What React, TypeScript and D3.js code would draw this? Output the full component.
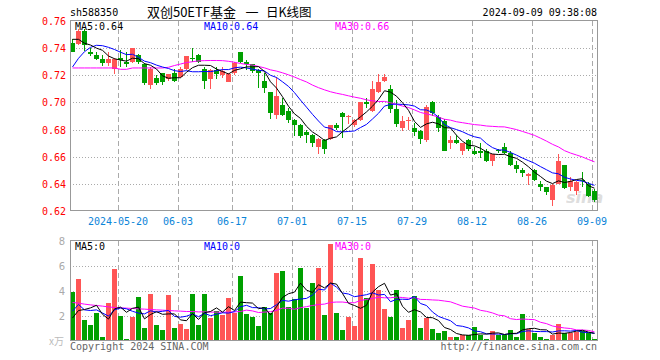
import React from "react";
import * as d3 from "d3";

// ---------- data ----------
const dates = [
  "2024-05-08","2024-05-09","2024-05-10","2024-05-13","2024-05-14","2024-05-15","2024-05-16","2024-05-17","2024-05-20","2024-05-21",
  "2024-05-22","2024-05-23","2024-05-24","2024-05-27","2024-05-28","2024-05-29","2024-05-30","2024-05-31","2024-06-03","2024-06-04",
  "2024-06-05","2024-06-06","2024-06-07","2024-06-11","2024-06-12","2024-06-13","2024-06-14","2024-06-17","2024-06-18","2024-06-19",
  "2024-06-20","2024-06-21","2024-06-24","2024-06-25","2024-06-26","2024-06-27","2024-06-28","2024-07-01","2024-07-02","2024-07-03",
  "2024-07-04","2024-07-05","2024-07-08","2024-07-09","2024-07-10","2024-07-11","2024-07-12","2024-07-15","2024-07-16","2024-07-17",
  "2024-07-18","2024-07-19","2024-07-22","2024-07-23","2024-07-24","2024-07-25","2024-07-26","2024-07-29","2024-07-30","2024-07-31",
  "2024-08-01","2024-08-02","2024-08-05","2024-08-06","2024-08-07","2024-08-08","2024-08-09","2024-08-12","2024-08-13","2024-08-14",
  "2024-08-15","2024-08-16","2024-08-19","2024-08-20","2024-08-21","2024-08-22","2024-08-23","2024-08-26","2024-08-27","2024-08-28",
  "2024-08-29","2024-08-30","2024-09-02","2024-09-03","2024-09-04","2024-09-05","2024-09-06","2024-09-09",
];

const opens = [
  0.744,0.743,0.753,0.737,0.735,0.732,0.729,0.725,0.733,0.730,
  0.730,0.735,0.728,0.713,0.718,0.722,0.717,0.722,0.719,0.725,
  0.733,0.735,0.725,0.717,0.724,0.720,0.715,0.722,0.737,0.730,
  0.728,0.724,0.716,0.708,0.691,0.698,0.694,0.687,0.683,0.678,
  0.676,0.667,0.672,0.673,0.683,0.692,0.689,0.683,0.687,0.700,
  0.694,0.708,0.716,0.710,0.695,0.681,0.686,0.681,0.679,0.672,
  0.700,0.689,0.686,0.670,0.672,0.664,0.672,0.664,0.664,0.664,
  0.657,0.665,0.667,0.663,0.654,0.650,0.646,0.650,0.640,0.638,
  0.628,0.640,0.654,0.638,0.635,0.643,0.640,0.635,
];
const highs = [
  0.747,0.754,0.754,0.740,0.737,0.735,0.737,0.733,0.739,0.737,
  0.740,0.736,0.729,0.726,0.720,0.722,0.721,0.725,0.726,0.734,
  0.740,0.736,0.726,0.725,0.726,0.726,0.722,0.730,0.737,0.731,
  0.728,0.725,0.722,0.708,0.719,0.703,0.696,0.688,0.684,0.680,
  0.677,0.674,0.673,0.683,0.685,0.693,0.691,0.688,0.700,0.703,
  0.716,0.721,0.721,0.713,0.702,0.690,0.689,0.685,0.680,0.698,
  0.701,0.691,0.688,0.675,0.676,0.670,0.673,0.667,0.670,0.666,
  0.662,0.666,0.670,0.664,0.657,0.652,0.648,0.651,0.642,0.638,
  0.640,0.662,0.654,0.645,0.642,0.649,0.641,0.636,
];
const lows = [
  0.737,0.742,0.738,0.734,0.731,0.727,0.727,0.721,0.726,0.726,
  0.729,0.728,0.713,0.710,0.713,0.713,0.716,0.715,0.718,0.724,
  0.730,0.729,0.710,0.710,0.717,0.718,0.715,0.720,0.729,0.724,
  0.722,0.711,0.707,0.688,0.688,0.690,0.685,0.675,0.674,0.670,
  0.667,0.662,0.662,0.672,0.680,0.674,0.684,0.682,0.686,0.696,
  0.693,0.707,0.715,0.692,0.682,0.679,0.680,0.675,0.669,0.671,
  0.690,0.678,0.664,0.666,0.669,0.661,0.664,0.661,0.659,0.656,
  0.653,0.663,0.662,0.653,0.648,0.645,0.639,0.642,0.635,0.632,
  0.624,0.640,0.636,0.635,0.632,0.638,0.630,0.627,
];
const closes = [
  0.737,0.753,0.742,0.736,0.732,0.729,0.732,0.732,0.731,0.728,
  0.740,0.730,0.714,0.725,0.714,0.715,0.721,0.716,0.725,0.734,
  0.732,0.730,0.716,0.724,0.721,0.723,0.721,0.729,0.730,0.728,
  0.723,0.722,0.711,0.692,0.705,0.691,0.687,0.683,0.675,0.676,
  0.670,0.673,0.666,0.683,0.681,0.689,0.690,0.687,0.700,0.699,
  0.710,0.715,0.719,0.695,0.684,0.686,0.687,0.678,0.673,0.697,
  0.692,0.681,0.664,0.672,0.670,0.670,0.666,0.662,0.663,0.657,
  0.662,0.664,0.663,0.654,0.651,0.648,0.647,0.643,0.638,0.634,
  0.639,0.657,0.637,0.642,0.641,0.642,0.631,0.628,
];
const volumes = [
  3.92,4.96,1.68,1.28,2.24,0.32,3.04,5.76,2.00,0.16,
  1.92,3.52,1.04,3.76,1.28,0.88,3.68,1.04,1.36,0.96,
  3.76,1.28,3.76,1.84,2.40,2.08,3.44,2.24,5.20,2.16,
  1.92,1.20,2.72,2.24,5.44,5.60,2.72,3.36,5.84,2.64,
  4.64,5.84,2.08,7.76,2.24,0.88,1.92,1.20,6.64,3.44,
  6.16,4.08,2.56,1.92,4.08,1.04,1.68,3.60,1.04,1.84,
  0.96,0.56,0.80,0.24,0.24,0.40,0.40,1.12,0.48,0.16,
  0.80,0.48,0.48,0.88,0.24,2.16,0.96,0.64,0.32,0.16,
  0.48,1.36,0.56,0.64,0.72,0.80,0.64,0.08,
];

// moving-average values before enough history exists in the window
const priceMa5Head = [0.7465, 0.7465, 0.7436, 0.7423];
const priceMa10Head = [0.7261, 0.7325, 0.7374, 0.7406, 0.7421, 0.7418, 0.7406, 0.739, 0.737];
const priceMa30Head = [
  0.7254,0.7254,0.7254,0.7254,0.7254,0.7254,0.7254,0.7254,0.7244,0.7244,
  0.7254,0.7254,0.7254,0.7254,0.7254,0.7254,0.7259,0.7272,0.7283,0.7294,
  0.7300,0.7306,0.7308,0.7309,0.7309,0.7308,0.7303,0.7296,0.7287,
];
const volMa5Head = [1.8, 2.4, 2.48, 2.61];
const volMa10Head = [2.35, 2.88, 2.45, 2.4, 2.45, 2.2, 1.95, 2.45, 2.6];
const volMa30Head = [
  3.04,2.99,2.91,2.85,2.80,2.75,2.69,2.64,2.61,2.59,
  2.56,2.53,2.51,2.48,2.45,2.43,2.40,2.37,2.35,2.32,
  2.32,2.29,2.29,2.27,2.27,2.27,2.27,2.29,2.32,
];

const priceTicks = [0.62, 0.64, 0.66, 0.68, 0.70, 0.72, 0.74, 0.76];
const volTicks = [2, 4, 6, 8];
const dateTicks = ["2024-05-20","2024-06-03","2024-06-17","2024-07-01","2024-07-15","2024-07-29","2024-08-12","2024-08-26","2024-09-09"];
const dateTickLabels = ["2024-05-20","06-03","06-17","07-01","07-15","07-29","08-12","08-26","09-09"];

const titleParts = ["双创50ETF基金", "一", "日K线图"];
const codeText = "sh588350";
const timeText = "2024-09-09 09:38:08";

function movingAverage(values: number[], n: number, head: number[]): number[] {
  return values.map((_, i) =>
    i < n - 1 ? head[i] : (d3.mean(values.slice(i - n + 1, i + 1)) as number)
  );
}

const RED = "#ff5555";
const GREEN = "#00a000";
const MONO = "'DejaVu Sans Mono', monospace";
const CJK = "'Noto Sans CJK SC', sans-serif";

export default function App() {
  const left = 70;
  const right = 597;
  const x = d3
    .scaleBand<string>()
    .domain(dates)
    .range([left, right])
    .paddingInner(1 / 6)
    .paddingOuter(0);
  const bw = x.bandwidth();
  const cx = (d: string) => (x(d) as number) + bw / 2;

  const y = d3.scaleLinear().domain([0.62, 0.76]).range([211, 21]);
  const yv = d3.scaleLinear().domain([0, 8]).range([340.5, 240.5]);

  const pMa5 = movingAverage(closes, 5, priceMa5Head);
  const pMa10 = movingAverage(closes, 10, priceMa10Head);
  const pMa30 = movingAverage(closes, 30, priceMa30Head);
  const vMa5 = movingAverage(volumes, 5, volMa5Head);
  const vMa10 = movingAverage(volumes, 10, volMa10Head);
  const vMa30 = movingAverage(volumes, 30, volMa30Head);

  const priceLine = d3
    .line<number>()
    .x((_, i) => cx(dates[i]))
    .y((v) => y(v));
  const volLine = d3
    .line<number>()
    .x((_, i) => cx(dates[i]))
    .y((v) => yv(v));

  const last = (a: number[]) => a[a.length - 1];

  return (
    <svg
      width={660}
      height={360}
      style={{ position: "absolute", left: 0, top: 0, background: "#fff" }}
    >
      <rect x={0} y={0} width={660} height={360} fill="#fff" />

      {/* header */}
      <text x={70} y={16} fontFamily={MONO} fontSize={10} fill="#000">{codeText}</text>
      <text x={236} y={17} textAnchor="end" fontFamily={CJK} fontSize={13} fill="#000">{titleParts[0]}</text>
      <text x={252} y={17} textAnchor="middle" fontFamily={CJK} fontSize={13} fill="#000">{titleParts[1]}</text>
      <text x={266} y={17} textAnchor="start" fontFamily={CJK} fontSize={12.5} fill="#000">{titleParts[2]}</text>
      <text x={597} y={16} textAnchor="end" fontFamily={MONO} fontSize={10} fill="#000">{timeText}</text>

      {/* price grid */}
      {priceTicks.slice(1, -1).map((t) => (
        <line key={"pg" + t} x1={left} x2={right} y1={Math.round(y(t)) + 0.5} y2={Math.round(y(t)) + 0.5}
          stroke="#aaa" strokeDasharray="1,2" />
      ))}
      {volTicks.slice(0, -1).map((t) => (
        <line key={"vg" + t} x1={left} x2={right} y1={Math.round(yv(t)) + 0.5} y2={Math.round(yv(t)) + 0.5}
          stroke="#aaa" strokeDasharray="1,2" />
      ))}
      {dateTicks.map((d) => (
        <g key={"vd" + d}>
          <line x1={(x(d) as number) + 0.5} x2={(x(d) as number) + 0.5} y1={21} y2={210}
            stroke="#aaa" strokeDasharray="5,3" />
          <line x1={(x(d) as number) + 0.5} x2={(x(d) as number) + 0.5} y1={241} y2={340}
            stroke="#aaa" strokeDasharray="5,3" />
        </g>
      ))}

      {/* y labels */}
      {priceTicks.map((t) => (
        <text key={"pl" + t} x={66} y={y(t) + 4} textAnchor="end" fontFamily={MONO} fontSize={10} fill="#ff0000">
          {t.toFixed(2)}
        </text>
      ))}
      {volTicks.map((t) => (
        <text key={"vl" + t} x={65} y={yv(t) + 4} textAnchor="end" fontFamily="'DejaVu Sans', sans-serif" fontSize={10} fill="#aaa">
          {t}
        </text>
      ))}
      <text x={64} y={345} textAnchor="end" fontFamily={CJK} fontSize={10} fill="#bbb">x万</text>

      {/* x labels */}
      {dateTicks.map((d, i) => (
        <text key={"xl" + d} x={(x(d) as number)} y={225} textAnchor="middle" fontFamily={MONO} fontSize={10} fill="#0b84d8">
          {dateTickLabels[i]}
        </text>
      ))}

      {/* watermark */}
      <text x={566} y={203} fontFamily="'DejaVu Sans', sans-serif" fontStyle="italic" fontWeight="bold" fontSize={16} fill="#d6d6d6" opacity={0.8}>sina</text>

      {/* candles */}
      {dates.map((d, i) => {
        const o = opens[i], c = closes[i], h = highs[i], l = lows[i];
        const up = c >= o;
        const col = up ? RED : GREEN;
        const top = Math.round(y(Math.max(o, c)));
        const bot = Math.round(y(Math.min(o, c)));
        return (
          <g key={"c" + d}>
            <line x1={cx(d)} x2={cx(d)} y1={Math.round(y(h))} y2={Math.round(y(l))} stroke={col} strokeWidth={1} />
            <rect x={x(d)} y={top} width={bw} height={Math.max(1, bot - top)} fill={col} />
          </g>
        );
      })}

      {/* volume bars */}
      {dates.map((d, i) => {
        const up = closes[i] >= opens[i];
        const top = Math.round(yv(volumes[i]));
        return (
          <rect key={"v" + d} x={x(d)} y={top} width={bw} height={Math.max(0, 340 - top)} fill={up ? RED : GREEN} />
        );
      })}

      {/* MA lines */}
      <path d={priceLine(pMa30) as string} fill="none" stroke="#ff00ff" strokeWidth={1} />
      <path d={priceLine(pMa10) as string} fill="none" stroke="#0000ff" strokeWidth={1} />
      <path d={priceLine(pMa5) as string} fill="none" stroke="#000" strokeWidth={1} />
      <path d={volLine(vMa30) as string} fill="none" stroke="#ff00ff" strokeWidth={1} />
      <path d={volLine(vMa10) as string} fill="none" stroke="#0000ff" strokeWidth={1} />
      <path d={volLine(vMa5) as string} fill="none" stroke="#000" strokeWidth={1} />

      {/* borders */}
      <rect x={70.5} y={20.5} width={527} height={190} fill="none" stroke="#999" />
      <rect x={70.5} y={240.5} width={527} height={100} fill="none" stroke="#999" />

      {/* MA legends */}
      <text x={75} y={29.5} fontFamily={MONO} fontSize={10} fill="#000">{"MA5:" + last(pMa5).toFixed(2)}</text>
      <text x={204} y={29.5} fontFamily={MONO} fontSize={10} fill="#0000ff">{"MA10:" + last(pMa10).toFixed(2)}</text>
      <text x={335} y={29.5} fontFamily={MONO} fontSize={10} fill="#ff00ff">{"MA30:" + last(pMa30).toFixed(2)}</text>
      <text x={75} y={249.5} fontFamily={MONO} fontSize={10} fill="#000">MA5:0</text>
      <text x={204} y={249.5} fontFamily={MONO} fontSize={10} fill="#0000ff">MA10:0</text>
      <text x={335} y={249.5} fontFamily={MONO} fontSize={10} fill="#ff00ff">MA30:0</text>

      {/* footer */}
      <text x={70} y={350} fontFamily={MONO} fontSize={10} fill="#666">Copyright 2024 SINA.COM</text>
      <text x={597} y={350} textAnchor="end" fontFamily={MONO} fontSize={10} fill="#666">http://finance.sina.com.cn</text>
    </svg>
  );
}
